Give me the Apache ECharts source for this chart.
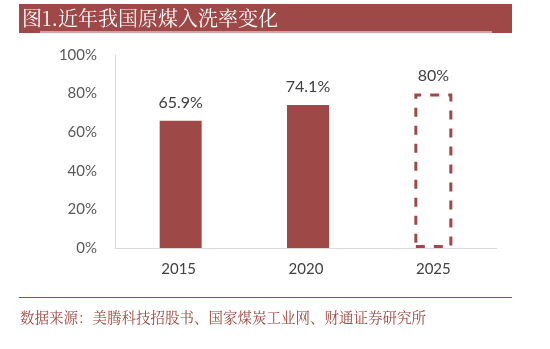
<!DOCTYPE html>
<html><head><meta charset="utf-8">
<script src="https://cdn.jsdelivr.net/npm/echarts@6/dist/echarts.min.js"></script>
<style>html,body{margin:0;padding:0;background:#fff}#c{width:550px;height:349px}</style>
</head><body><div id="c"></div>
<script>
const categories = ['2015', '2020', '2025'];
const actualValues = [65.9, 74.1, null];
const targetValues = [null, null, 80];
const yTicks = [0, 20, 40, 60, 80, 100];
const titleText = '图1.近年我国原煤入洗率变化';
const sourceText = '数据来源：美腾科技招股书、国家煤炭工业网、财通证券研究所';

const red = '#9E4848';
const chart = echarts.init(document.getElementById('c'));
chart.setOption({
  animation: false,
  grid: { left: 115, right: 53, top: 55, bottom: 101 },
  xAxis: {
    type: 'category', data: categories,
    axisLine: { lineStyle: { color: '#D9D9D9', width: 1 } },
    axisTick: { show: false },
    axisLabel: { color: '#404040', fontSize: 15, fontFamily: 'Lato, "Open Sans", sans-serif', margin: 14 }
  },
  yAxis: {
    type: 'value', min: 0, max: 100, interval: 20,
    axisLine: { show: true, lineStyle: { color: '#D9D9D9', width: 1 } },
    axisTick: { show: false },
    splitLine: { show: false },
    axisLabel: { color: '#595959', fontSize: 15, fontFamily: 'Lato, "Open Sans", sans-serif', margin: 18, formatter: v => v + '%' }
  },
  series: [
    {
      type: 'bar', data: actualValues, barWidth: 42, barGap: '-100%',
      itemStyle: { color: red },
      label: { show: true, position: 'top', distance: 10, color: '#404040', fontSize: 16, fontFamily: 'Lato, "Open Sans", sans-serif', formatter: p => p.value.toFixed(1) + '%' }
    },
    {
      type: 'bar', data: targetValues, barWidth: 38,
      itemStyle: { color: 'rgba(0,0,0,0)', borderColor: red, borderWidth: 3, borderType: [9, 9] },
      label: { show: true, position: 'top', distance: 10, color: '#404040', fontSize: 16, fontFamily: 'Lato, "Open Sans", sans-serif', formatter: p => p.value + '%' }
    }
  ],
  graphic: [
    { type: 'rect', shape: { x: 19, y: 4, width: 493, height: 29 }, style: { fill: red } },
    { type: 'line', shape: { x1: 40, y1: 32, x2: 492, y2: 32 }, style: { stroke: '#fff', lineWidth: 1 } },
    { type: 'text', x: 22, y: 18, style: { text: titleText, fill: '#fff', fontSize: 20, fontFamily: '"Noto Serif CJK SC", "Noto Sans CJK SC", serif', verticalAlign: 'middle' } },
    { type: 'line', shape: { x1: 19, y1: 297.5, x2: 512, y2: 297.5 }, style: { stroke: '#A0473F', lineWidth: 1 } },
    { type: 'text', x: 20, y: 317, style: { text: sourceText, fill: '#A0473F', fontSize: 14.5, fontFamily: '"Noto Serif CJK SC", "Noto Sans CJK SC", serif', verticalAlign: 'middle' } }
  ]
});
</script></body></html>
